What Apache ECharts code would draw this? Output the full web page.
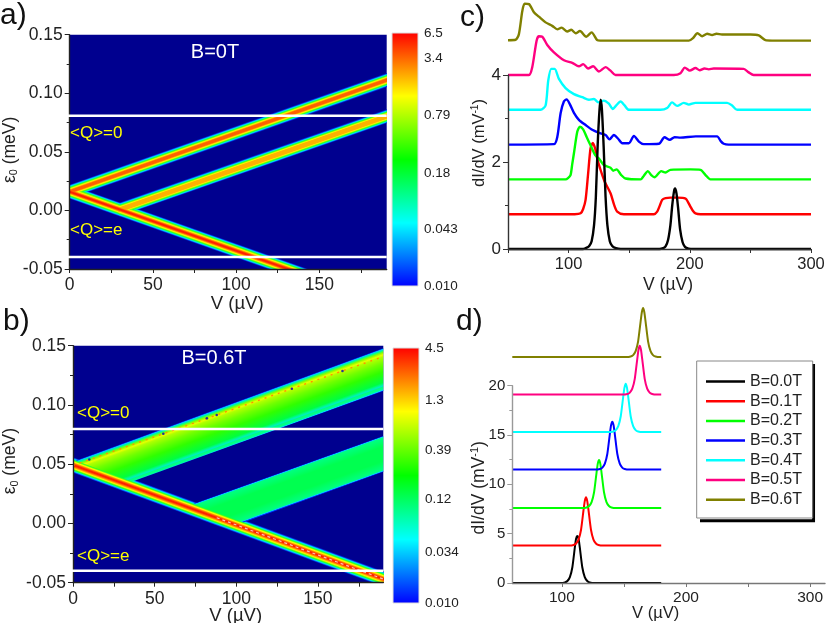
<!DOCTYPE html>
<html><head><meta charset="utf-8">
<style>html,body{margin:0;padding:0;background:#fff}#main{width:830px;height:623px;filter:blur(0.45px)}</style>
<script src="https://cdn.jsdelivr.net/npm/echarts@6/dist/echarts.min.js"></script>
</head><body><div id="main"></div>
<script>
// ---------- data ----------
const fieldNames = ['B=0.0T','B=0.1T','B=0.2T','B=0.3T','B=0.4T','B=0.5T','B=0.6T'];
const fieldColors = ['#000000','#ff0000','#00ff00','#0000ff','#00ffff','#ff0080','#808000'];

// panel a : ridge lines (V, eps0), run past the frame and clipped by it
const aRidgeUpper = [[-15,0.0085],[205,0.1185]];
const aRidgeSecond = [[29,0.0002],[205,0.0875]];
const aRidgeLower = [[-15,0.0235],[160,-0.0645]];
const aWhiteLevels = [0.0809,-0.0397];
const aColorTicks = [0.010,0.043,0.18,0.79,3.4,6.5];

// panel b : ridges and plateaus
const bRidgeLower = [[-15,0.0569],[205,-0.0545]];
const bRidgeCore = [[88,0.0048],[190,-0.0469]];
const bUpperPlateau = [[0,0.052],[190,0.1478],[190,0.1118],[35.9,0.0352],[0,0.049]];
const bSecondPlateau = [[73.6,0.0164],[190,0.0738],[190,0.0437],[104.3,0.0009],[104.3,-0.003],[73.6,0.012]];
const bDotLine = [[0,0.049],[190,0.1408]];
const bDots = [[10,0.054],[55.3,0.0757],[82,0.0887],[88,0.0915],[134,0.1137],[165,0.1287]];
const bWhiteLevels = [0.0797,-0.0399];
const bColorTicks = [0.010,0.034,0.12,0.39,1.3,4.5];

// panel c traces
const c0 = [[50,0],[112,0],[115,0.03],[117,0.07],[119,0.18],[121,0.55],[122.5,1.2],[124,2.4],[125.5,3.2],[126.5,3.43],[127.5,3.2],[129,2.3],[130.5,1.2],[132,0.55],[134,0.18],[136,0.07],[139,0.02],[143,0],[175,0],[178,0.02],[180,0.06],[182,0.2],[184,0.55],[185.5,1.0],[187,1.33],[187.8,1.39],[189,1.28],[190.5,0.9],[192,0.45],[194,0.16],[196,0.05],[199,0.01],[203,0],[300,0]];
const c1 = [[50,0.8],[105,0.8],[109.9,0.82],[112,0.92],[114,1.13],[116,1.7],[118.1,2.31],[120,2.44],[122,2.3],[123.6,2.08],[126,1.85],[129.7,1.55],[134.6,1.28],[137.5,1.02],[140.1,0.86],[145.6,0.8],[170.4,0.8],[173.1,0.86],[175,0.98],[177.2,1.13],[180,1.17],[184,1.18],[190,1.18],[196.5,1.16],[198.5,1.08],[200.6,0.97],[202.5,0.88],[204.7,0.82],[208.8,0.8],[300,0.8]];
const c2 = [[50,1.6],[97.5,1.6],[99.5,1.63],[101.6,1.7],[103,1.95],[104.4,2.2],[107.2,2.7],[109.3,2.81],[112,2.75],[114.8,2.58],[118,2.39],[122,2.16],[125,2.08],[129.1,1.93],[134.6,1.87],[136.8,1.8],[139.6,1.83],[143.4,1.7],[147,1.62],[159.4,1.6],[162,1.68],[165.4,1.79],[168.2,1.7],[170.9,1.65],[176.4,1.79],[180,1.76],[184,1.82],[200.6,1.83],[208.8,1.82],[213,1.7],[217,1.6],[300,1.6]];
const c3 = [[50,2.4],[87.9,2.41],[90.7,2.58],[93.4,3.12],[96.1,3.39],[98.4,3.44],[101,3.33],[104.4,3.13],[108.5,2.97],[114,2.85],[119.5,2.74],[125,2.67],[130.5,2.62],[133.8,2.52],[137.3,2.62],[140.7,2.54],[144.3,2.43],[149.7,2.43],[153.9,2.6],[158,2.47],[162,2.41],[174.5,2.42],[179.1,2.57],[183.5,2.51],[187.4,2.57],[192.3,2.56],[205,2.59],[222.5,2.59],[225.5,2.48],[228,2.42],[232,2.4],[300,2.4]];
const c4 = [[50,3.2],[76.9,3.2],[81,3.3],[83.2,3.87],[85.7,4.14],[88.5,4.14],[92,3.91],[97.5,3.7],[104.4,3.56],[111.3,3.49],[116.8,3.43],[120.9,3.45],[124.5,3.37],[129.1,3.41],[133.2,3.34],[136.5,3.22],[139.3,3.3],[142.9,3.39],[146.2,3.3],[149.7,3.2],[175.8,3.2],[181.3,3.24],[185.4,3.37],[189.6,3.29],[195,3.36],[199.2,3.32],[204.7,3.36],[230.8,3.36],[234.9,3.3],[239,3.2],[300,3.2]];
const c5 = [[50,4],[67.3,4],[70,4.18],[73.6,4.79],[75.5,4.89],[78.3,4.88],[82.4,4.69],[87.9,4.52],[96.2,4.34],[103,4.28],[108.5,4.2],[112.1,4.25],[116,4.15],[120.3,4.2],[125,4.08],[130.5,4.18],[134.6,4.1],[138.7,4],[186.8,4],[192.3,4.04],[195.9,4.17],[200,4.1],[204.7,4.16],[208.2,4.11],[212.1,4.15],[215.7,4.13],[219.8,4.15],[244.5,4.14],[248.6,4.06],[252.7,4],[300,4]];
const c6 = [[50,4.8],[56.3,4.81],[59,4.94],[61.8,5.47],[63.7,5.64],[67.3,5.63],[71.4,5.44],[75.5,5.34],[81,5.21],[86.5,5.13],[90.7,5.05],[94.2,5.09],[98.9,5],[102.2,5.04],[105.8,4.96],[109.3,5.01],[114.6,4.88],[119,4.98],[123.6,4.8],[126,4.79],[199.2,4.79],[202.7,4.85],[206.3,4.96],[210.2,4.89],[214.3,4.95],[218.4,4.92],[222,4.95],[226.6,4.93],[250,4.93],[256.9,4.91],[262.4,4.8],[267.9,4.79],[300,4.79]];

// panel d traces
const d0 = [[60,0],[99,0],[102.4,0.06],[104.4,0.2],[106.4,0.6],[108.4,1.6],[110.4,3.6],[111.4,4.5],[112.4,4.76],[113.4,4.5],[114.4,3.6],[116.4,1.6],[118.4,0.6],[120.4,0.2],[122.4,0.06],[126,0],[180,0]];
const d1 = [[60,3.8],[106,3.8],[109.4,3.86],[111.4,4],[113.4,4.4],[115.4,5.4],[117.4,7.4],[118.4,8.3],[119.4,8.68],[120.4,8.3],[121.4,7.4],[123.4,5.4],[125.4,4.4],[127.4,4],[129.4,3.86],[133,3.8],[180,3.8]];
const d2 = [[60,7.6],[116.5,7.6],[119.9,7.66],[121.9,7.8],[123.9,8.2],[125.9,9.2],[127.9,11.2],[128.9,12.1],[129.9,12.47],[130.9,12.1],[131.9,11.2],[133.9,9.2],[135.9,8.2],[137.9,7.8],[139.9,7.66],[143.5,7.6],[180,7.6]];
const d3 = [[60,11.5],[127,11.5],[130.6,11.56],[132.6,11.7],[134.6,12.1],[136.6,13.1],[138.6,15.1],[139.6,16],[140.6,16.35],[141.6,16],[142.6,15.1],[144.6,13.1],[146.6,12.1],[148.6,11.7],[150.6,11.56],[154,11.5],[180,11.5]];
const d4 = [[60,15.3],[138,15.3],[141.4,15.36],[143.4,15.5],[145.4,15.9],[147.4,16.9],[149.4,18.9],[150.4,19.8],[151.4,20.2],[152.4,19.8],[153.4,18.9],[155.4,16.9],[157.4,15.9],[159.4,15.5],[161.4,15.36],[165,15.3],[180,15.3]];
const d5 = [[60,19.1],[149,19.1],[152.7,19.16],[154.7,19.3],[156.7,19.7],[158.7,20.7],[160.7,22.7],[161.7,23.65],[162.7,24.05],[163.7,23.65],[164.7,22.7],[166.7,20.7],[168.7,19.7],[170.7,19.3],[172.7,19.16],[176,19.1],[180,19.1]];
const d6 = [[60,22.9],[152,22.9],[155.4,22.96],[157.4,23.1],[159.4,23.5],[161.4,24.5],[163.4,26.5],[164.4,27.45],[165.4,27.87],[166.4,27.45],[167.4,26.5],[169.4,24.5],[171.4,23.5],[173.4,23.1],[175.4,22.96],[179,22.9],[180,22.9]];

// ---------- styling ----------
const FONT = '"Liberation Sans", Arial, sans-serif';
const INK = '#222';
const NAVY = '#00008f';
const rampStops = [[0,'#ff0000'],[0.25,'#ffff00'],[0.5,'#00ff00'],[0.75,'#00ffff'],[1,'#0000ff']];
const glow = [[13,'#0020d0'],[12,'#0070ff'],[11,'#00d8ff'],[10,'#00ffb0'],[9,'#20ff30'],[7.6,'#90ff00'],[6.2,'#ffff00'],[4.8,'#ffb000'],[3.4,'#ff6000'],[1.8,'#ff2000']];

function grid(l,t,w,h,extra){return Object.assign({left:l,top:t,width:w,height:h,containLabel:false,outerBoundsMode:'none'},extra||{});}
function lineS(g,pts,width,color,opt){
  return Object.assign({type:'line',xAxisIndex:g,yAxisIndex:g,data:pts,symbol:'none',silent:true,animation:false,
    lineStyle:{width:width,color:color,cap:'butt',join:'miter'},itemStyle:{color:color},z:2},opt||{});
}
function stroke(g,pts,width,color){ // clipped exactly at the frame
  return {type:'custom',xAxisIndex:g,yAxisIndex:g,silent:true,animation:false,z:2,clip:true,data:pts,
    renderItem:(p,api)=>p.dataIndex?null:{type:'polyline',shape:{points:pts.map(c=>api.coord(c))},
      style:{fill:null,stroke:color,lineWidth:width,lineCap:'butt',lineJoin:'miter'}}};
}
function bandSeries(g,ridges,from,to){ // outermost layer first, so ridges merge the way a map does
  const out=[];
  glow.forEach((layer,i)=>{
    if(i<from||i>to) return;
    ridges.forEach(r=>{ if(i<=r.peak) out.push(stroke(g,r.pts,layer[0]*r.scale,layer[1])); });
  });
  return out;
}
function plateau(g,poly,topA,topB,lowPt,stops){
  return {type:'custom',xAxisIndex:g,yAxisIndex:g,silent:true,animation:false,z:2,clip:true,data:[[topA[0],topA[1]]],
    renderItem:(p,api)=>{
      const pts=poly.map(c=>api.coord(c));
      const a=api.coord(topA),b=api.coord(topB),q=api.coord(lowPt);
      const dx=b[0]-a[0],dy=b[1]-a[1],L=Math.hypot(dx,dy),nx=-dy/L,ny=dx/L;
      const w=(q[0]-a[0])*nx+(q[1]-a[1])*ny;
      return {type:'polygon',shape:{points:pts},style:{fill:new echarts.graphic.LinearGradient(a[0],a[1],a[0]+nx*w,a[1]+ny*w,
        stops.map(s=>({offset:s[0],color:s[1]})),true)}};
    }};
}
function colorBar(g,ticks){
  const lo=Math.log10(ticks[0]),hi=Math.log10(ticks[ticks.length-1]);
  return {type:'custom',xAxisIndex:g,yAxisIndex:g,silent:true,animation:false,clip:false,data:[[0,lo]],
    renderItem:(p,api)=>{
      const a=api.coord([0,hi]),b=api.coord([1,lo]);
      return {type:'rect',shape:{x:a[0],y:a[1],width:b[0]-a[0],height:b[1]-a[1]},
        style:{fill:new echarts.graphic.LinearGradient(0,0,0,1,rampStops.map(s=>({offset:s[0],color:s[1]}))),stroke:'#ddd',lineWidth:1}};
    }};
}
function titleRich(size){return {a:{fontSize:size,fontFamily:FONT,color:INK},s:{fontSize:size*0.62,fontFamily:FONT,color:INK,verticalAlign:'bottom',padding:[8,0,0,0]},u:{fontSize:size*0.62,fontFamily:FONT,color:INK,verticalAlign:'top',padding:[0,0,8,0]}};}
function xA(i,min,max,labels,ticks,name,gap,pad,size,lineColor){
  return {type:'value',gridIndex:i,min:min,max:max,z:3,splitLine:{show:false},name:name,nameLocation:'middle',nameGap:gap,nameMoveOverlap:false,
    nameTextStyle:{fontFamily:FONT,fontSize:size+1,color:INK,padding:pad},
    axisLine:{show:true,onZero:false,lineStyle:{color:lineColor||'#222',width:1.4}},
    axisTick:{show:true,length:4,customValues:ticks,lineStyle:{color:lineColor||'#222'}},
    axisLabel:{customValues:labels,fontFamily:FONT,fontSize:size,color:INK,margin:7,hideOverlap:false}};
}
function yA(i,min,max,interval,fmt,name,gap,pad,size,lineColor,rich){
  return {type:'value',gridIndex:i,min:min,max:max,interval:interval,z:3,splitLine:{show:false},name:name,nameLocation:'middle',nameGap:gap,nameRotate:90,nameMoveOverlap:false,
    nameTextStyle:{fontFamily:FONT,fontSize:size,color:INK,padding:pad,rich:rich},
    axisLine:{show:true,onZero:false,lineStyle:{color:lineColor||'#222',width:1.4}},
    axisTick:{show:true,length:5,lineStyle:{color:lineColor||'#222'}},
    minorTick:{show:true,splitNumber:2,length:3,lineStyle:{color:lineColor||'#222'}},
    axisLabel:{formatter:fmt,fontFamily:FONT,fontSize:size,color:INK,margin:7,showMinLabel:true,showMaxLabel:true}};
}
function barX(i){return {type:'value',gridIndex:i,min:0,max:1,show:false};}
function barY(i,ticks){
  const logs=ticks.map(v=>Math.log10(v));
  return {type:'value',gridIndex:i,position:'right',min:logs[0],max:logs[logs.length-1],splitLine:{show:false},
    axisLine:{show:false},axisTick:{show:false},
    axisLabel:{customValues:logs,margin:6,fontFamily:FONT,fontSize:13.5,color:INK,hideOverlap:false,
      formatter:v=>{let best=ticks[0];ticks.forEach(t=>{if(Math.abs(Math.log10(t)-v)<Math.abs(Math.log10(best)-v))best=t;});return best.toPrecision(2);}}};
}
function note(x,y,t,size,color,align){return {type:'text',x:x,y:y,z:20,silent:true,style:{text:t,fontFamily:FONT,fontSize:size,fill:color,align:align||'left',verticalAlign:'middle'}};}

const eps = '{a|\u03b5}{s|0}{a| (meV)}';
const didv = '{a|dI/dV (mV}{u|-1}{a|)}';
const mu = 'V (\u00b5V)';
const fmt2 = v=>v.toFixed(2);

const series = [];
// panel a
series.push(...bandSeries(0,[{pts:aRidgeUpper,peak:8,scale:1},{pts:aRidgeSecond,peak:7,scale:1},{pts:aRidgeLower,peak:9,scale:1.02}],0,9));
aWhiteLevels.forEach(v=>series.push(lineS(0,[[-1,v],[190.5,v]],2.5,'#ffffff',{z:4,clip:false})));
// panel b : outer glow under the plateaus, inner ridge over them
const topStops=[[0,'#0030ff'],[0.02,'#00c8ff'],[0.05,'#00ff90'],[0.095,'#80ff00'],[0.15,'#e8ff00'],[0.2,'#b0ff00'],[0.35,'#70ff00'],[0.55,'#30ff00'],[0.8,'#00ff40'],[0.86,'#00f8a0'],[0.88,'#00e8c8'],[0.905,'#00ff80'],[0.955,'#00ff90'],[0.98,'#00d8ff'],[1,'#0030ff']];
const midStops=[[0,'#0030ff'],[0.02,'#00d0ff'],[0.05,'#00ff80'],[0.3,'#00ff50'],[0.7,'#00ff50'],[0.95,'#00ff80'],[0.98,'#00d0ff'],[1,'#0030ff']];
const bMain=[{pts:bRidgeLower,peak:9,scale:1.12}];
series.push(...bandSeries(1,bMain,0,3));
series.push(plateau(1,bUpperPlateau,bUpperPlateau[0],bUpperPlateau[1],bUpperPlateau[2],topStops));
series.push(plateau(1,bSecondPlateau,bSecondPlateau[0],bSecondPlateau[1],bSecondPlateau[2],midStops));
series.push(lineS(1,bDotLine,1.4,'#ff9000',{lineStyle:{width:1.4,color:'#ff9000',type:[2,5]}}));
series.push({type:'scatter',xAxisIndex:1,yAxisIndex:1,data:bDots,symbolSize:2.6,itemStyle:{color:'#0000c0'},silent:true,animation:false,z:2});
series.push(...bandSeries(1,bMain,4,9));
series.push(lineS(1,bRidgeCore,1.2,'#ffc0b0',{lineStyle:{width:1.2,color:'#ffc0b0',type:[3,3]}}));
bWhiteLevels.forEach(v=>series.push(lineS(1,[[-1,v],[190,v]],2.7,'#ffffff',{z:4,clip:false})));
// colour bars
series.push(colorBar(2,aColorTicks));
series.push(colorBar(3,bColorTicks));
// panel c, black on top
[c1,c2,c3,c4,c5,c6,c0].forEach((d,k)=>{
  const idx=(k+1)%7;
  series.push(lineS(4,d,2.4,fieldColors[idx],{name:fieldNames[idx],clip:false,smooth:0.25,lineStyle:{width:2.4,color:fieldColors[idx],join:'round'}}));
});
// panel d
[d0,d1,d2,d3,d4,d5,d6].forEach((d,k)=>{
  series.push(lineS(5,d,2,fieldColors[k],{name:fieldNames[k],clip:false,smooth:0.2,lineStyle:{width:2,color:fieldColors[k],join:'round'}}));
});

const option = {
  backgroundColor:'#fff',animation:false,
  grid:[
    grid(69.7,34.7,317,234.3,{show:true,backgroundColor:NAVY,borderWidth:0}),
    grid(73,345.7,310.3,237,{show:true,backgroundColor:NAVY,borderWidth:0}),
    grid(392,33,26,253),
    grid(393,348,26,255),
    grid(508,75,303,174),
    grid(512.3,385.7,312.7,197.3)
  ],
  xAxis:[
    xA(0,0,190.5,[0,50,100,150],[0,25,50,75,100,125,150,175],mu,25.5,[0,0,0,18],17.5),
    xA(1,0,190,[0,50,100,150],[0,25,50,75,100,125,150,175],mu,23.5,[0,0,0,15],17.5),
    barX(2),barX(3),
    xA(4,50,300,[100,200,300],[50,100,150,200,250,300],mu,27,[0,0,0,17],16.5,'#333'),
    xA(5,60,312,[100,200,300],[100,150,200,250,300],mu,22,[0,26,0,0],15.5,'#777')
  ],
  yAxis:[
    yA(0,-0.05,0.15,0.05,fmt2,eps,50,[0,0,0,4],17.5,null,titleRich(17.5)),
    yA(1,-0.05,0.15,0.05,fmt2,eps,53,[0,0,0,6],17.5,null,titleRich(17.5)),
    barY(2,aColorTicks),barY(3,bColorTicks),
    yA(4,0,4,2,v=>String(v),didv,20,[0,0,0,38],17,'#333',titleRich(16.5)),
    yA(5,0,20,5,v=>String(v),didv,24,[0,7,0,0],15,'#999',titleRich(17.5))
  ],
  legend:{data:fieldNames,orient:'vertical',left:697,top:361,selectedMode:false,backgroundColor:'#fff',borderWidth:0,
    shadowColor:'#000',shadowOffsetX:3,shadowOffsetY:3,shadowBlur:0,padding:[12.5,10,11.5,9],icon:'rect',itemWidth:39,itemHeight:2.5,itemGap:3.7,
    textStyle:{fontFamily:FONT,fontSize:16,color:INK,height:16,lineHeight:16}},
  graphic:[
    {type:'rect',z:30,silent:true,shape:{x:696.7,y:361,width:116,height:157},style:{fill:null,stroke:'#888',lineWidth:1}},
    note(0,16,'a)',30,'#111'),note(3,322,'b)',30,'#111'),note(460,18,'c)',30,'#111'),note(456,322,'d)',30,'#111'),
    note(215,52,'B=0T',20,'#fff','center'),note(214,358,'B=0.6T',20,'#fff','center'),
    note(70,133,'<Q>=0',17,'#ffff00'),note(70,230,'<Q>=e',17,'#ffff00'),
    note(77,413,'<Q>=0',17,'#ffff00'),note(77,556,'<Q>=e',17,'#ffff00')
  ],
  series:series
};
echarts.init(document.getElementById('main'),null,{renderer:'canvas'}).setOption(option);
</script></body></html>
